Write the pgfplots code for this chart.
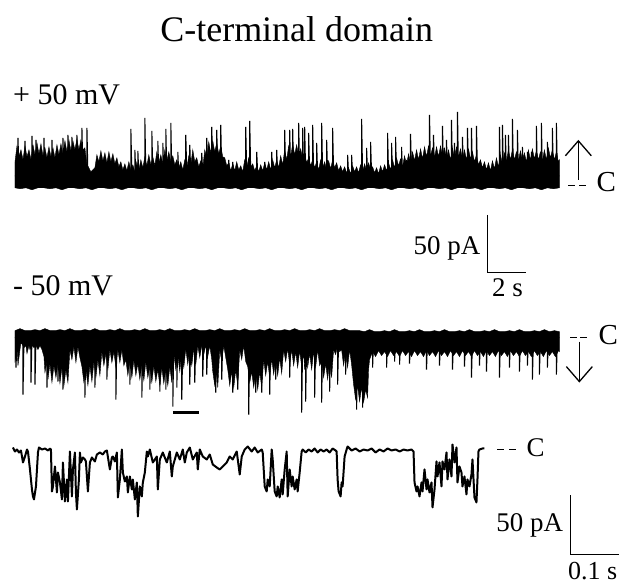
\documentclass[border=0pt]{standalone}
\usepackage{fontspec}
\setmainfont{Liberation Serif}
\usepackage{pgfplots}
\pgfplotsset{compat=1.18}

\begin{document}
\begin{tikzpicture}
\begin{axis}[
    scale only axis,
    width=620pt, height=585pt,
    xmin=0, xmax=620, ymin=0, ymax=585,
    y dir=reverse,
    hide axis,
    clip=false,
]
% frame of the figure (keeps the page at full size)
\addplot[draw=none, forget plot] coordinates {(0,0) (620,585)};
% ---- trace 1 (+50 mV): noise band
\addplot[fill=black, draw=black, line width=0.4pt] coordinates {
(15,188) (15,162) (17,146) (19,156) (21,150) (23,160) (25,146) (27,157) (29,150) (31,160)
(33,145) (35,155) (37,143) (39,154) (41,144) (43,156) (45,148) (47,158) (49,147) (51,157)
(53,148) (55,158) (57,145) (59,155) (61,144) (63,154) (65,141) (67,152) (69,140) (71,151)
(73,141) (75,150) (77,139) (79,150) (81,140) (83,150) (85,148) (87,165) (89,168) (91,172)
(93,170) (95,168) (97,155) (99,162) (101,151) (103,161) (105,153) (107,163) (109,152) (111,162)
(113,154) (115,164) (117,158) (119,167) (121,162) (123,170) (125,164) (127,171) (129,162) (131,170)
(133,165) (135,172) (137,162) (139,170) (141,160) (143,168) (145,157) (147,166) (149,155) (151,165)
(153,157) (155,166) (157,152) (159,163) (161,155) (163,164) (165,150) (167,161) (169,152) (171,162)
(173,156) (175,165) (177,160) (179,168) (181,162) (183,170) (185,160) (187,168) (189,156) (191,165)
(193,150) (195,162) (197,158) (199,167) (201,161) (203,168) (205,150) (207,158) (209,142) (211,153)
(213,141) (215,152) (217,143) (219,154) (221,146) (223,157) (225,158) (227,166) (229,163) (231,171)
(233,164) (235,171) (237,162) (239,170) (241,166) (243,172) (245,160) (247,168) (249,158) (251,167)
(253,164) (255,171) (257,166) (259,172) (261,165) (263,171) (265,163) (267,170) (269,162) (271,170)
(273,160) (275,168) (277,160) (279,168) (281,156) (283,165) (285,150) (287,160) (289,146) (291,157)
(293,144) (295,155) (297,145) (299,156) (301,149) (303,159) (305,154) (307,163) (309,158) (311,166)
(313,160) (315,168) (317,162) (319,170) (321,160) (323,168) (325,162) (327,170) (329,161) (331,169)
(333,160) (335,168) (337,163) (339,171) (341,166) (343,172) (345,167) (347,173) (349,168) (351,174)
(353,166) (355,172) (357,167) (359,173) (361,165) (363,172) (365,164) (367,171) (369,163) (371,170)
(373,167) (375,173) (377,168) (379,174) (381,166) (383,172) (385,165) (387,171) (389,163) (391,170)
(393,160) (395,168) (397,158) (399,166) (401,159) (403,167) (405,156) (407,165) (409,154) (411,163)
(413,152) (415,161) (417,150) (419,160) (421,149) (423,159) (425,147) (427,157) (429,146) (431,156)
(433,148) (435,158) (437,147) (439,157) (441,146) (443,156) (445,148) (447,158) (449,150) (451,160)
(453,148) (455,158) (457,147) (459,157) (461,149) (463,159) (465,150) (467,160) (469,149) (471,159)
(473,152) (475,162) (477,155) (479,165) (481,160) (483,168) (485,162) (487,170) (489,163) (491,171)
(493,161) (495,169) (497,158) (499,167) (501,155) (503,164) (505,153) (507,162) (509,150) (511,160)
(513,150) (515,160) (517,152) (519,161) (521,151) (523,160) (525,153) (527,162) (529,150) (531,160)
(533,149) (535,159) (537,151) (539,160) (541,152) (543,161) (545,150) (547,160) (549,148) (551,158)
(553,150) (555,160) (557,152) (559,162) (560,160)
(560,188) (554,189) (548,188) (542,190) (536,188) (530,189) (524,188) (518,188) (512,190) (506,188)
(500,189) (494,188) (488,188) (482,190) (476,188) (470,189) (464,188) (458,188) (452,190) (446,188)
(440,189) (434,188) (428,188) (422,190) (416,188) (410,189) (404,188) (398,188) (392,190) (386,188)
(380,189) (374,188) (368,188) (362,190) (356,188) (350,189) (344,188) (338,188) (332,190) (326,188)
(320,189) (314,188) (308,188) (302,190) (296,188) (290,189) (284,188) (278,188) (272,190) (266,188)
(260,189) (254,188) (248,188) (242,190) (236,188) (230,189) (224,188) (218,188) (212,190) (206,188)
(200,189) (194,188) (188,188) (182,190) (176,188) (170,189) (164,188) (158,188) (152,190) (146,188)
(140,189) (134,188) (128,188) (122,190) (116,188) (110,189) (104,188) (98,188) (92,190) (86,188)
(80,189) (74,188) (68,188) (62,190) (56,188) (50,189) (44,188) (38,188) (32,190) (26,188) (20,189)
} --cycle;
% ---- trace 1: openings (upward spikes)
\addplot[black, line width=1.1pt] coordinates {
(15,176)
(18,176) (18,138) (19,176) (25,176) (25,141) (26,176) (32,176) (32,136) (33,176)
(36,176) (36,140) (37,176) (44,176) (44,138) (45,176) (52,176) (52,140) (53,176)
(63,176) (63,138) (64,176) (68,176) (68,135) (69,176) (72,176) (72,137) (73,176)
(77,176) (77,135) (78,176) (82,176) (82,128) (83,176) (87,176) (87,128) (88,176)
(131,176) (131,129) (132,176) (135,176) (135,150) (136,176) (138,176) (138,151) (139,176)
(145,176) (145,118) (146,176) (152,176) (152,131) (153,176) (158,176) (158,141) (159,176)
(163,176) (163,143) (164,176) (166,176) (166,129) (167,176) (171,176) (171,123) (172,176)
(178,176) (178,152) (179,176) (186,176) (186,135) (187,176) (190,176) (190,145) (191,176)
(202,176) (202,153) (203,176) (207,176) (207,138) (208,176) (212,176) (212,127) (213,176)
(217,176) (217,130) (218,176) (221,176) (221,125) (222,176) (229,176) (229,160) (230,176)
(233,176) (233,162) (234,176) (246,176) (246,127) (247,176) (250,176) (250,121) (251,176)
(257,176) (257,152) (258,176) (265,176) (265,162) (266,176) (272,176) (272,152) (273,176)
(277,176) (277,150) (278,176) (285,176) (285,130) (286,176) (290,176) (290,130) (291,176)
(293,176) (293,129) (294,176) (299,176) (299,123) (300,176) (303,176) (303,128) (304,176)
(305,176) (305,127) (306,176) (309,176) (309,133) (310,176) (313,176) (313,125) (314,176)
(317,176) (317,143) (318,176) (322,176) (322,123) (323,176) (327,176) (327,140) (328,176)
(333,176) (333,128) (334,176) (348,176) (348,155) (349,176) (352,176) (352,155) (353,176)
(362,176) (362,119) (363,176) (367,176) (367,148) (368,176) (371,176) (371,142) (372,176)
(388,176) (388,133) (389,176) (392,176) (392,143) (393,176) (396,176) (396,137) (397,176)
(402,176) (402,147) (403,176) (407,176) (407,160) (408,176) (411,176) (411,134) (412,176)
(430,176) (430,115) (431,176) (434,176) (434,135) (435,176) (443,176) (443,126) (444,176)
(447,176) (447,140) (448,176) (452,176) (452,120) (453,176) (455,176) (455,143) (456,176)
(458,176) (458,112) (459,176) (463,176) (463,137) (464,176) (468,176) (468,128) (469,176)
(472,176) (472,128) (473,176) (477,176) (477,126) (478,176) (500,176) (500,127) (501,176)
(503,176) (503,125) (504,176) (506,176) (506,135) (507,176) (509,176) (509,135) (510,176)
(513,176) (513,119) (514,176) (518,176) (518,130) (519,176) (523,176) (523,147) (524,176)
(528,176) (528,152) (529,176) (532,176) (532,152) (533,176) (537,176) (537,126) (538,176)
(542,176) (542,123) (543,176) (548,176) (548,142) (549,176) (553,176) (553,128) (554,176)
(557,176) (557,123) (558,176) (560,176)
};
% ---- trace 2 (-50 mV): noise band
\addplot[fill=black, draw=black, line width=0.4pt] coordinates {
(15,331) (15,363) (17,348) (18,366) (20,350) (21,343) (23,346) (24,348) (26,346) (27,354)
(29,346) (30,350) (32,346) (34,348) (36,346) (38,350) (40,346) (42,350) (44,357) (45,373)
(47,362) (48,380) (50,364) (52,383) (54,366) (56,378) (58,364) (60,384) (62,368) (64,386)
(66,370) (68,383) (70,350) (72,360) (74,347) (76,363) (78,347) (80,358) (82,367) (84,383)
(86,370) (88,386) (90,366) (92,382) (94,362) (96,378) (98,360) (100,376) (102,352) (104,366)
(106,354) (108,370) (110,350) (112,363) (114,352) (116,368) (118,350) (120,363) (122,350) (124,366)
(126,360) (128,376) (130,362) (132,378) (134,360) (136,376) (138,364) (140,380) (142,365) (144,381)
(146,362) (148,378) (150,367) (152,383) (154,366) (156,382) (158,370) (160,386) (162,368) (164,384)
(166,370) (168,386) (170,367) (172,383) (174,354) (176,370) (178,356) (180,372) (182,352) (184,368)
(186,349) (188,365) (190,350) (192,366) (194,349) (196,365) (198,346) (200,358) (202,346) (204,355)
(206,346) (208,357) (210,346) (212,360) (213,372) (215,386) (217,372) (218,388) (220,350) (222,362)
(224,346) (226,358) (228,370) (230,386) (232,372) (234,388) (236,370) (238,386) (240,350) (242,360)
(244,346) (246,362) (248,367) (250,383) (252,372) (254,388) (256,374) (258,390) (260,372) (262,388)
(264,360) (266,376) (268,362) (270,378) (272,359) (274,375) (276,360) (278,376) (280,358) (282,374)
(284,350) (286,362) (288,349) (290,365) (292,350) (294,366) (296,352) (298,368) (300,351) (302,367)
(304,354) (305,370) (307,352) (308,368) (310,354) (312,370) (314,352) (316,368) (318,350) (320,366)
(322,362) (324,378) (326,364) (328,380) (330,362) (332,378) (334,350) (336,355) (338,346) (340,352)
(342,350) (344,366) (346,352) (348,368) (350,350) (352,365) (354,385) (356,400) (358,386) (360,402)
(362,388) (364,403) (366,390) (368,398) (369,370) (370,360)
(373,352) (376,357) (379,351) (382,356) (385,352) (388,357) (391,351) (394,356) (397,352) (400,357)
(403,351) (406,356) (409,352) (412,357) (415,351) (418,356) (421,352) (424,357) (427,351) (430,356)
(433,352) (436,357) (439,351) (442,356) (445,352) (448,357) (451,351) (454,356) (457,352) (460,357)
(463,351) (466,356) (469,352) (472,357) (475,351) (478,356) (481,352) (484,357) (487,351) (490,356)
(493,352) (496,357) (499,351) (502,356) (505,352) (508,357) (511,351) (514,356) (517,352) (520,357)
(523,351) (526,356) (529,352) (532,357) (535,351) (538,356) (541,352) (544,357) (547,351) (550,356)
(553,352) (556,357) (559,351) (560,352)
(560,332) (555,331) (550,332) (545,330) (540,332) (535,331) (530,332) (525,332) (520,330) (515,332)
(510,331) (505,332) (500,332) (495,330) (490,332) (485,331) (480,332) (475,332) (470,330) (465,332)
(460,331) (455,332) (450,332) (445,330) (440,332) (435,331) (430,332) (425,332) (420,330) (415,332)
(410,331) (405,332) (400,332) (395,330) (390,332) (385,331) (380,332) (375,332) (370,330) (365,332)
(360,331) (355,331) (350,331) (345,329) (340,331) (335,330) (330,331) (325,331) (320,329) (315,331)
(310,330) (305,331) (300,331) (295,329) (290,331) (285,330) (280,331) (275,331) (270,329) (265,331)
(260,330) (255,331) (250,331) (245,329) (240,331) (235,330) (230,331) (225,331) (220,329) (215,331)
(210,330) (205,331) (200,331) (195,329) (190,331) (185,330) (180,331) (175,331) (170,329) (165,331)
(160,330) (155,331) (150,331) (145,329) (140,331) (135,330) (130,331) (125,331) (120,329) (115,331)
(110,330) (105,331) (100,331) (95,329) (90,331) (85,330) (80,331) (75,331) (70,329) (65,331)
(60,330) (55,331) (50,331) (45,329) (40,331) (35,330) (30,331) (25,331) (20,329)
} --cycle;
% ---- trace 2: openings (downward spikes)
\addplot[black, line width=1.1pt] coordinates {
(15,338)
(16,338) (16,368) (17,338) (23,338) (23,395) (24,338) (31,338) (31,383) (32,338)
(35,338) (35,385) (36,338) (47,338) (47,388) (48,338) (58,338) (58,382) (59,338)
(63,338) (63,390) (64,338) (85,338) (85,398) (86,338) (95,338) (95,388) (96,338)
(107,338) (107,380) (108,338) (116,338) (116,400) (117,338) (130,338) (130,385) (131,338)
(142,338) (142,398) (143,338) (150,338) (150,390) (151,338) (160,338) (160,392) (161,338)
(166,338) (166,390) (167,338) (173,338) (173,407) (174,338) (177,338) (177,388) (178,338)
(182,338) (182,400) (183,338) (190,338) (190,385) (191,338) (195,338) (195,383) (196,338)
(203,338) (203,377) (204,338) (207,338) (207,375) (208,338) (216,338) (216,393) (217,338)
(222,338) (222,380) (223,338) (233,338) (233,393) (234,338) (238,338) (238,390) (239,338)
(249,338) (249,415) (250,338) (256,338) (256,393) (257,338) (262,338) (262,393) (263,338)
(270,338) (270,395) (271,338) (276,338) (276,380) (277,338) (290,338) (290,378) (291,338)
(302,338) (302,413) (303,338) (306,338) (306,402) (307,338) (315,338) (315,398) (316,338)
(322,338) (322,403) (323,338) (330,338) (330,392) (331,338) (338,338) (338,385) (339,338)
(346,338) (346,375) (347,338) (357,338) (357,410) (358,338) (363,338) (363,408) (364,338)
(373,338) (373,368) (374,338) (387,338) (387,368) (388,338) (395,338) (395,362) (396,338)
(400,338) (400,365) (401,338) (410,338) (410,364) (411,338) (427,338) (427,370) (428,338)
(440,338) (440,366) (441,338) (453,338) (453,370) (454,338) (465,338) (465,367) (466,338)
(472,338) (472,378) (473,338) (480,338) (480,366) (481,338) (487,338) (487,372) (488,338)
(500,338) (500,378) (501,338) (510,338) (510,368) (511,338) (520,338) (520,372) (521,338)
(528,338) (528,366) (529,338) (533,338) (533,380) (534,338) (540,338) (540,375) (541,338)
(548,338) (548,368) (549,338) (557,338) (557,375) (558,338) (560,338)
};
% ---- bar under trace 2 (expanded segment)
\addplot[black, line width=3pt] coordinates {(173,413) (199,413)};
% ---- trace 3 (expanded)
\addplot[black, line width=2pt, line join=round] coordinates {
(13,448) (15,452) (17,450) (19,453) (21,451) (23,463) (25,457) (27,450) (28,452) (30,470)
(32,490) (33,497) (34,500) (36,487) (37,470) (38,453) (39,448) (42,450) (45,449) (48,451)
(50,449) (51,450) (52,492) (53,487) (55,467) (57,493) (58,473) (60,483) (62,500) (63,463)
(65,502) (67,480) (68,502) (70,452) (72,497) (73,470) (75,453) (76,493) (77,510) (79,480)
(80,453) (81,463) (83,458) (85,460) (86,462) (88,492) (90,463) (92,458) (95,462) (97,455)
(100,453) (103,455) (105,452) (107,451) (110,470) (112,458) (113,457) (115,462) (117,453)
(118,498) (120,480) (122,450) (123,473) (125,482) (127,477) (128,493) (130,477) (132,490)
(133,480) (135,500) (137,483) (138,517) (140,487) (142,497) (143,483) (145,473) (147,452)
(148,457) (150,450) (153,463) (157,457) (158,490) (160,460) (163,453) (167,463) (170,452)
(172,477) (173,467) (177,453) (180,460) (183,450) (185,463) (187,453) (190,448) (193,460)
(197,453) (198,470) (200,450) (203,457) (207,460) (210,455) (213,465) (217,468) (220,470)
(223,467) (227,463) (230,457) (233,460) (237,452) (240,475) (242,457) (245,450) (248,447)
(252,452) (255,448) (258,453) (262,450) (263,453) (265,487) (267,492) (268,480) (270,487)
(272,450) (273,460) (275,492) (277,497) (278,487) (280,498) (282,480) (283,495) (285,470)
(287,452) (288,497) (290,470) (292,487) (293,477) (295,490) (297,480) (298,492) (300,473)
(302,452) (303,450) (306,453) (309,450) (312,452) (315,449) (318,453) (321,450) (324,452)
(327,450) (330,453) (333,449) (336,451) (337,452) (338,480) (339,492) (341,497) (342,483)
(343,487) (345,457) (347,450) (348,447) (352,451) (356,449) (360,452) (364,450) (368,451)
(372,449) (376,453) (380,450) (384,452) (388,449) (392,451) (396,450) (400,452) (404,450)
(408,451) (412,450) (414,452) (415,483) (417,492) (418,487) (420,497) (422,483) (423,492)
(425,470) (427,490) (428,480) (430,493) (432,483) (433,508) (435,490) (437,462) (438,477)
(440,463) (442,487) (443,462) (445,470) (447,453) (448,480) (450,460) (452,477) (453,445)
(455,463) (457,448) (458,483) (460,467) (462,473) (463,487) (465,477) (467,495) (468,480)
(470,487) (472,475) (473,460) (475,498) (477,503) (478,480) (479,452) (480,450) (483,449)
(485,449)
};
% ---- closed-level marks, arrows and scale bars
\addplot[black, line width=1.3pt] coordinates {(569,186) (576,186)};
\addplot[black, line width=1.3pt] coordinates {(580,186) (587,186)};
\addplot[black, line width=1.3pt] coordinates {(571,338) (578,338)};
\addplot[black, line width=1.3pt] coordinates {(581,338) (588,338)};
\addplot[black, line width=1.3pt] coordinates {(498,450) (505,450)};
\addplot[black, line width=1.3pt] coordinates {(510,450) (517,450)};
\addplot[black, line width=1.3pt] coordinates {(579,180) (579,141)};
\addplot[black, line width=1.3pt] coordinates {(566,156) (579,141) (592,156)};
\addplot[black, line width=1.3pt] coordinates {(580,342) (580,382)};
\addplot[black, line width=1.3pt] coordinates {(567,367) (580,382) (593,367)};
\addplot[black, line width=1.4pt] coordinates {(488,215) (488,273) (527,273)};
\addplot[black, line width=1.4pt] coordinates {(571,496) (571,555) (620,555)};
% ---- texts
\node[anchor=base, font=\fontsize{36}{40}\selectfont] at (axis cs:297,42) {C-terminal domain};
\node[anchor=base west, inner sep=0pt, font=\fontsize{30}{34}\selectfont] at (axis cs:13,105) {+ 50 mV};
\node[anchor=base west, inner sep=0pt, font=\fontsize{30}{34}\selectfont] at (axis cs:13,296) {- 50 mV};
\node[anchor=base east, inner sep=0pt, font=\fontsize{27}{30}\selectfont] at (axis cs:481,255) {50 pA};
\node[anchor=base, inner sep=0pt, font=\fontsize{27}{30}\selectfont] at (axis cs:508,297) {2 s};
\node[anchor=base west, inner sep=0pt, font=\fontsize{29}{32}\selectfont] at (axis cs:597,192) {C};
\node[anchor=base west, inner sep=0pt, font=\fontsize{29}{32}\selectfont] at (axis cs:599,345) {C};
\node[anchor=base west, inner sep=0pt, font=\fontsize{27}{30}\selectfont] at (axis cs:527,457) {C};
\node[anchor=base east, inner sep=0pt, font=\fontsize{27}{30}\selectfont] at (axis cs:564,532) {50 pA};
\node[anchor=base east, inner sep=0pt, font=\fontsize{26}{30}\selectfont] at (axis cs:618,580) {0.1 s};
\end{axis}
\end{tikzpicture}
\end{document}
